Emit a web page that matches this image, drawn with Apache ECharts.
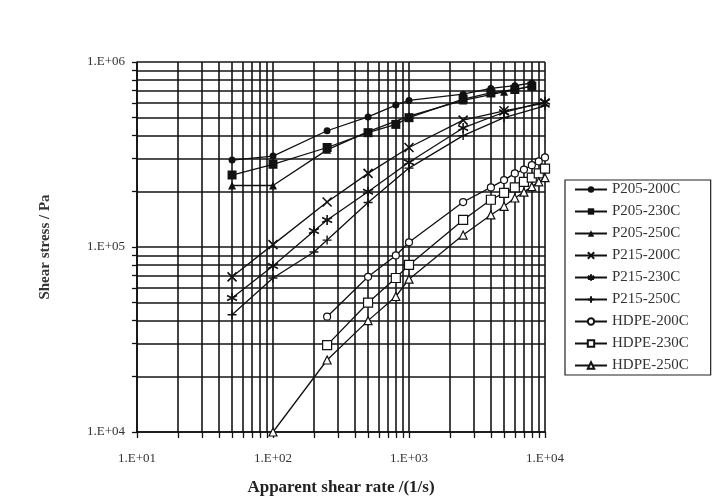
<!DOCTYPE html>
<html>
<head>
<meta charset="utf-8">
<script src="https://cdn.jsdelivr.net/npm/echarts@6/dist/echarts.min.js"></script>
<style>
  html, body { margin: 0; padding: 0; background: #fff; }
  #chart { width: 716px; height: 503px; }
</style>
</head>
<body>
<div id="chart"></div>
<script>
// Apparent shear rate (1/s) and shear stress (Pa) per material / temperature
const seriesNames = ['P205-200C', 'P205-230C', 'P205-250C', 'P215-200C', 'P215-230C', 'P215-250C', 'HDPE-200C', 'HDPE-230C', 'HDPE-250C'];

const rateP205_200 = [50, 100, 250, 500, 800, 1000, 2500, 4000, 6000, 8000];
const stressP205_200 = [2.95e5, 3.1e5, 4.25e5, 5.05e5, 5.85e5, 6.2e5, 6.7e5, 7.2e5, 7.45e5, 7.7e5];

const rateP205_230 = [50, 100, 250, 500, 800, 1000, 2500, 4000, 6000, 8000];
const stressP205_230 = [2.45e5, 2.8e5, 3.45e5, 4.15e5, 4.6e5, 5.0e5, 6.3e5, 6.8e5, 7.1e5, 7.4e5];

const rateP205_250 = [50, 100, 250, 500, 1000, 2500, 5000, 8000];
const stressP205_250 = [2.15e5, 2.15e5, 3.35e5, 4.2e5, 5.1e5, 6.2e5, 6.9e5, 7.4e5];

const rateP215_200 = [50, 100, 250, 500, 1000, 2500, 5000, 10000];
const stressP215_200 = [6.9e4, 1.03e5, 1.75e5, 2.5e5, 3.45e5, 4.85e5, 5.45e5, 6.0e5];

const rateP215_230 = [50, 100, 200, 250, 500, 1000, 2500, 5000, 10000];
const stressP215_230 = [5.3e4, 7.9e4, 1.22e5, 1.4e5, 1.99e5, 2.87e5, 4.4e5, 5.35e5, 6.1e5];

const rateP215_250 = [50, 100, 200, 250, 500, 1000, 2500, 5000, 10000];
const stressP215_250 = [4.3e4, 6.8e4, 9.4e4, 1.09e5, 1.74e5, 2.67e5, 4.0e5, 5.0e5, 5.8e5];

const rateHDPE_200 = [250, 500, 800, 1000, 2500, 4000, 5000, 6000, 7000, 8000, 9000, 10000];
const stressHDPE_200 = [4.2e4, 6.9e4, 9.0e4, 1.06e5, 1.75e5, 2.1e5, 2.3e5, 2.5e5, 2.62e5, 2.77e5, 2.9e5, 3.05e5];

const rateHDPE_230 = [250, 500, 800, 1000, 2500, 4000, 5000, 6000, 7000, 8000, 9000, 10000];
const stressHDPE_230 = [2.95e4, 5.0e4, 6.8e4, 8.0e4, 1.4e5, 1.8e5, 1.96e5, 2.1e5, 2.25e5, 2.37e5, 2.5e5, 2.65e5];

const rateHDPE_250 = [100, 250, 500, 800, 1000, 2500, 4000, 5000, 6000, 7000, 8000, 9000, 10000];
const stressHDPE_250 = [1.0e4, 2.45e4, 4.0e4, 5.4e4, 6.7e4, 1.16e5, 1.49e5, 1.66e5, 1.84e5, 1.98e5, 2.12e5, 2.25e5, 2.37e5];

const rates = [rateP205_200, rateP205_230, rateP205_250, rateP215_200, rateP215_230, rateP215_250, rateHDPE_200, rateHDPE_230, rateHDPE_250];
const stresses = [stressP205_200, stressP205_230, stressP205_250, stressP215_200, stressP215_230, stressP215_250, stressHDPE_200, stressHDPE_230, stressHDPE_250];

// marker styles: filled circle / square / triangle, cross, asterisk, plus, open circle / square / triangle
const INK = '#111';
const markers = [
  { symbol: 'circle', size: 7, fill: INK },
  { symbol: 'rect', size: 9, fill: INK },
  { symbol: 'triangle', size: 8, fill: INK },
  { symbol: 'path://M0,0L10,10M10,0L0,10', size: 9, fill: 'none', stroke: 1.6 },
  { symbol: 'path://M5,0L5,10M0,2.5L10,7.5M0,7.5L10,2.5', size: 10, fill: 'none', stroke: 1.6 },
  { symbol: 'path://M5,0L5,10M0,5L10,5', size: 9, fill: 'none', stroke: 1.4 },
  { symbol: 'circle', size: 7, fill: '#fff', stroke: 1.2 },
  { symbol: 'rect', size: 9, fill: '#fff', stroke: 1.2 },
  { symbol: 'triangle', size: 8, fill: '#fff', stroke: 1.2 }
];

const FONT = '"Liberation Serif", "DejaVu Serif", serif';
const sci = v => '1.E+' + String(Math.round(Math.log10(v))).padStart(2, '0');

const gridLine = { show: true, lineStyle: { color: '#141414', width: 1.6 } };

const series = seriesNames.map((name, i) => {
  const m = markers[i];
  return {
    name,
    type: 'line',
    data: rates[i].map((r, k) => [r, stresses[i][k]]),
    symbol: m.symbol,
    symbolSize: m.size,
    showAllSymbol: true,
    lineStyle: { color: INK, width: 1.3 },
    itemStyle: {
      color: m.fill,
      borderColor: INK,
      borderWidth: m.stroke || 0
    },
    z: 3
  };
});

const chart = echarts.init(document.getElementById('chart'), null, { renderer: 'canvas' });
chart.setOption({
  animation: false,
  backgroundColor: '#fff',
  grid: { left: 137, right: 171, top: 62, bottom: 71, containLabel: false },
  xAxis: {
    type: 'log',
    logBase: 10,
    min: 10,
    max: 10000,
    name: 'Apparent shear rate /(1/s)',
    nameLocation: 'middle',
    nameGap: 47,
    nameTextStyle: { fontFamily: FONT, fontSize: 17, fontWeight: 'bold', color: '#222' },
    axisLine: { show: true, onZero: false, lineStyle: { color: INK, width: 1.6 } },
    axisTick: { show: true, inside: false, length: 6, lineStyle: { color: INK, width: 1.3 } },
    minorTick: { show: true, splitNumber: 9, length: 6, lineStyle: { color: INK, width: 1.3 } },
    axisLabel: { formatter: sci, fontFamily: FONT, fontSize: 13, color: '#333', margin: 20 },
    splitLine: gridLine,
    minorSplitLine: gridLine
  },
  yAxis: {
    type: 'log',
    logBase: 10,
    min: 10000,
    max: 1000000,
    name: 'Shear stress / Pa',
    nameLocation: 'middle',
    nameGap: 84,
    nameTextStyle: { fontFamily: FONT, fontSize: 15, fontWeight: 'bold', color: '#333' },
    axisLine: { show: true, onZero: false, lineStyle: { color: INK, width: 1.6 } },
    axisTick: { show: true, inside: false, length: 5, lineStyle: { color: INK, width: 1.3 } },
    minorTick: { show: true, splitNumber: 9, length: 5, lineStyle: { color: INK, width: 1.3 } },
    axisLabel: { formatter: sci, fontFamily: FONT, fontSize: 13, color: '#333', margin: 12 },
    splitLine: gridLine,
    minorSplitLine: gridLine
  },
  legend: {
    data: seriesNames,
    orient: 'vertical',
    left: 565,
    top: 180,
    padding: [2, 22, 2, 9],
    itemGap: 7.0,
    itemWidth: 32,
    itemHeight: 8,
    borderColor: '#222',
    borderWidth: 1.2,
    textStyle: { fontFamily: FONT, fontSize: 15, color: '#333' }
  },
  series
});
</script>
</body>
</html>
